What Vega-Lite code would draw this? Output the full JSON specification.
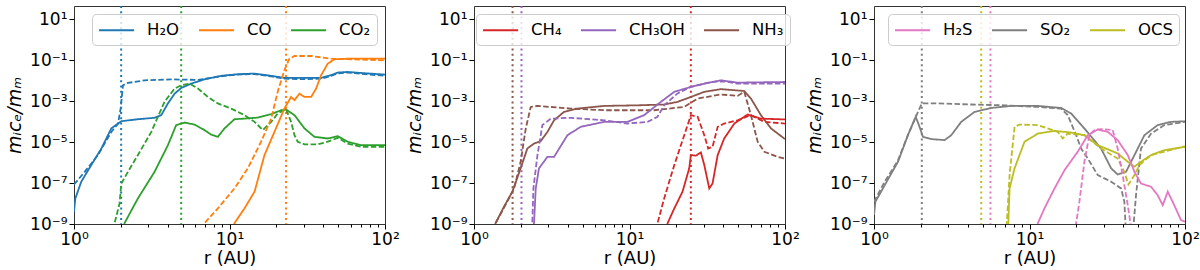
{
  "$schema": "https://vega.github.io/schema/vega-lite/v6.json",
  "padding": {"left": 5, "top": 4, "right": 0, "bottom": 0},
  "bounds": "flush",
  "spacing": 89,
  "config": {
    "font": "DejaVu Sans",
    "view": {"stroke": "#333", "strokeWidth": 1},
    "axis": {"grid": false, "domain": false, "tickColor": "#000", "labelColor": "#000", "titleColor": "#000", "labelFont": "DejaVu Sans", "titleFont": "DejaVu Sans", "titleFontWeight": "normal", "labelFontSize": 17, "titleFontSize": 18, "labelFlush": false},
    "legend": {"orient": "none", "legendY": 8, "direction": "horizontal", "symbolType": "M-1,0H2.9", "symbolSize": 324, "symbolStrokeWidth": 2, "symbolFillColor": "transparent", "labelFontSize": 16.5, "labelFont": "DejaVu Sans", "labelColor": "#000", "strokeColor": "#cccccc", "fillColor": "rgba(255,255,255,0.8)", "cornerRadius": 4, "padding": 6, "columnPadding": 15, "labelOffset": 29}
  },
  "datasets": {
    "snow": [
      {"s": "H₂O", "r": 2.01}, {"s": "CO₂", "r": 4.89}, {"s": "CO", "r": 23.1},
      {"s": "NH₃", "r": 1.77}, {"s": "CH₃OH", "r": 2.02}, {"s": "CH₄", "r": 24.8},
      {"s": "SO₂", "r": 2.03}, {"s": "OCS", "r": 4.89}, {"s": "H₂S", "r": 5.61}
    ],
    "curves": [
      {"s": "H₂O", "t": "s", "r": 1, "v": 4.0e-9},
      {"s": "H₂O", "t": "s", "r": 1.02, "v": 1.78e-8},
      {"s": "H₂O", "t": "s", "r": 1.114, "v": 1.17e-7},
      {"s": "H₂O", "t": "s", "r": 1.291, "v": 7.6e-7},
      {"s": "H₂O", "t": "s", "r": 1.5, "v": 4.9e-6},
      {"s": "H₂O", "t": "s", "r": 1.738, "v": 4.7e-5},
      {"s": "H₂O", "t": "s", "r": 2.014, "v": 1.05e-4},
      {"s": "H₂O", "t": "s", "r": 2.576, "v": 1.32e-4},
      {"s": "H₂O", "t": "s", "r": 3.296, "v": 1.55e-4},
      {"s": "H₂O", "t": "s", "r": 3.639, "v": 2.09e-4},
      {"s": "H₂O", "t": "s", "r": 4.018, "v": 7.8e-4},
      {"s": "H₂O", "t": "s", "r": 4.436, "v": 2.34e-3},
      {"s": "H₂O", "t": "s", "r": 4.898, "v": 4.47e-3},
      {"s": "H₂O", "t": "s", "r": 5.675, "v": 7.24e-3},
      {"s": "H₂O", "t": "s", "r": 6.902, "v": 1.17e-2},
      {"s": "H₂O", "t": "s", "r": 8.831, "v": 1.74e-2},
      {"s": "H₂O", "t": "s", "r": 11.32, "v": 2.09e-2},
      {"s": "H₂O", "t": "s", "r": 14.49, "v": 2.24e-2},
      {"s": "H₂O", "t": "s", "r": 18.54, "v": 1.74e-2},
      {"s": "H₂O", "t": "s", "r": 22.54, "v": 1.38e-2},
      {"s": "H₂O", "t": "s", "r": 30.34, "v": 1.38e-2},
      {"s": "H₂O", "t": "s", "r": 38.82, "v": 1.38e-2},
      {"s": "H₂O", "t": "s", "r": 44.98, "v": 1.86e-2},
      {"s": "H₂O", "t": "s", "r": 49.66, "v": 2.51e-2},
      {"s": "H₂O", "t": "s", "r": 57.54, "v": 2.69e-2},
      {"s": "H₂O", "t": "s", "r": 70.15, "v": 2.4e-2},
      {"s": "H₂O", "t": "s", "r": 100, "v": 2.0e-2},
      {"s": "H₂O", "t": "d", "r": 1, "v": 8.5e-8},
      {"s": "H₂O", "t": "d", "r": 1.172, "v": 3.55e-7},
      {"s": "H₂O", "t": "d", "r": 1.426, "v": 2.34e-6},
      {"s": "H₂O", "t": "d", "r": 1.738, "v": 3.16e-5},
      {"s": "H₂O", "t": "d", "r": 1.919, "v": 8.1e-5},
      {"s": "H₂O", "t": "d", "r": 1.995, "v": 4.37e-4},
      {"s": "H₂O", "t": "d", "r": 2.065, "v": 6.0e-3},
      {"s": "H₂O", "t": "d", "r": 2.223, "v": 7.8e-3},
      {"s": "H₂O", "t": "d", "r": 2.844, "v": 1.05e-2},
      {"s": "H₂O", "t": "d", "r": 4.217, "v": 1.17e-2},
      {"s": "H₂O", "t": "d", "r": 6.266, "v": 1.1e-2},
      {"s": "H₂O", "t": "d", "r": 8.831, "v": 1.66e-2},
      {"s": "H₂O", "t": "d", "r": 11.32, "v": 2.0e-2},
      {"s": "H₂O", "t": "d", "r": 14.49, "v": 2.14e-2},
      {"s": "H₂O", "t": "d", "r": 18.54, "v": 1.62e-2},
      {"s": "H₂O", "t": "d", "r": 22.54, "v": 1.26e-2},
      {"s": "H₂O", "t": "d", "r": 30.34, "v": 1.2e-2},
      {"s": "H₂O", "t": "d", "r": 38.82, "v": 1.26e-2},
      {"s": "H₂O", "t": "d", "r": 44.98, "v": 1.74e-2},
      {"s": "H₂O", "t": "d", "r": 49.66, "v": 2.29e-2},
      {"s": "H₂O", "t": "d", "r": 57.54, "v": 2.51e-2},
      {"s": "H₂O", "t": "d", "r": 70.15, "v": 2.19e-2},
      {"s": "H₂O", "t": "d", "r": 100, "v": 1.74e-2},
      {"s": "CO₂", "t": "s", "r": 2.08, "v": 5e-10},
      {"s": "CO₂", "t": "s", "r": 2.113, "v": 1.1e-9},
      {"s": "CO₂", "t": "s", "r": 2.576, "v": 1.78e-8},
      {"s": "CO₂", "t": "s", "r": 3.296, "v": 3.55e-7},
      {"s": "CO₂", "t": "s", "r": 4.018, "v": 7.1e-6},
      {"s": "CO₂", "t": "s", "r": 4.539, "v": 6.8e-5},
      {"s": "CO₂", "t": "s", "r": 5.14, "v": 9.1e-5},
      {"s": "CO₂", "t": "s", "r": 5.957, "v": 7.2e-5},
      {"s": "CO₂", "t": "s", "r": 6.902, "v": 3.9e-5},
      {"s": "CO₂", "t": "s", "r": 7.621, "v": 2.34e-5},
      {"s": "CO₂", "t": "s", "r": 8.414, "v": 1.82e-5},
      {"s": "CO₂", "t": "s", "r": 9.29, "v": 4.7e-5},
      {"s": "CO₂", "t": "s", "r": 10.76, "v": 1.32e-4},
      {"s": "CO₂", "t": "s", "r": 12.47, "v": 1.41e-4},
      {"s": "CO₂", "t": "s", "r": 15.21, "v": 1.58e-4},
      {"s": "CO₂", "t": "s", "r": 18.54, "v": 2.34e-4},
      {"s": "CO₂", "t": "s", "r": 21.48, "v": 3.63e-4},
      {"s": "CO₂", "t": "s", "r": 23.12, "v": 3.89e-4},
      {"s": "CO₂", "t": "s", "r": 26.18, "v": 2.09e-4},
      {"s": "CO₂", "t": "s", "r": 30.34, "v": 4.7e-5},
      {"s": "CO₂", "t": "s", "r": 35.16, "v": 1.82e-5},
      {"s": "CO₂", "t": "s", "r": 42.85, "v": 1.51e-5},
      {"s": "CO₂", "t": "s", "r": 49.66, "v": 1.95e-5},
      {"s": "CO₂", "t": "s", "r": 57.54, "v": 1.05e-5},
      {"s": "CO₂", "t": "s", "r": 70.15, "v": 7.1e-6},
      {"s": "CO₂", "t": "s", "r": 100, "v": 7.1e-6},
      {"s": "CO₂", "t": "d", "r": 1.8, "v": 5e-10},
      {"s": "CO₂", "t": "d", "r": 1.824, "v": 1.1e-9},
      {"s": "CO₂", "t": "d", "r": 1.963, "v": 1.0e-8},
      {"s": "CO₂", "t": "d", "r": 2.014, "v": 9.5e-8},
      {"s": "CO₂", "t": "d", "r": 2.223, "v": 3.55e-7},
      {"s": "CO₂", "t": "d", "r": 2.576, "v": 2.34e-6},
      {"s": "CO₂", "t": "d", "r": 3.141, "v": 3.16e-5},
      {"s": "CO₂", "t": "d", "r": 3.819, "v": 9.3e-4},
      {"s": "CO₂", "t": "d", "r": 4.436, "v": 4.17e-3},
      {"s": "CO₂", "t": "d", "r": 4.898, "v": 6.0e-3},
      {"s": "CO₂", "t": "d", "r": 5.534, "v": 7.24e-3},
      {"s": "CO₂", "t": "d", "r": 6.266, "v": 4.17e-3},
      {"s": "CO₂", "t": "d", "r": 7.261, "v": 1.62e-3},
      {"s": "CO₂", "t": "d", "r": 8.414, "v": 7.8e-4},
      {"s": "CO₂", "t": "d", "r": 10.26, "v": 4.37e-4},
      {"s": "CO₂", "t": "d", "r": 12.47, "v": 2.09e-4},
      {"s": "CO₂", "t": "d", "r": 14.49, "v": 9.8e-5},
      {"s": "CO₂", "t": "d", "r": 16.37, "v": 3.9e-5},
      {"s": "CO₂", "t": "d", "r": 18.54, "v": 9.8e-5},
      {"s": "CO₂", "t": "d", "r": 20.42, "v": 2.51e-4},
      {"s": "CO₂", "t": "d", "r": 23.12, "v": 4.07e-4},
      {"s": "CO₂", "t": "d", "r": 24.89, "v": 9.8e-5},
      {"s": "CO₂", "t": "d", "r": 26.18, "v": 2.19e-5},
      {"s": "CO₂", "t": "d", "r": 27.48, "v": 1.05e-5},
      {"s": "CO₂", "t": "d", "r": 30.34, "v": 7.8e-6},
      {"s": "CO₂", "t": "d", "r": 36.9, "v": 7.8e-6},
      {"s": "CO₂", "t": "d", "r": 42.85, "v": 1.05e-5},
      {"s": "CO₂", "t": "d", "r": 49.66, "v": 1.62e-5},
      {"s": "CO₂", "t": "d", "r": 57.54, "v": 8.5e-6},
      {"s": "CO₂", "t": "d", "r": 70.15, "v": 5.9e-6},
      {"s": "CO₂", "t": "d", "r": 100, "v": 5.9e-6},
      {"s": "CO", "t": "s", "r": 10.6, "v": 5e-10},
      {"s": "CO", "t": "s", "r": 10.76, "v": 1.1e-9},
      {"s": "CO", "t": "s", "r": 12.47, "v": 5.75e-9},
      {"s": "CO", "t": "s", "r": 14.49, "v": 3.8e-8},
      {"s": "CO", "t": "s", "r": 16.79, "v": 2.34e-6},
      {"s": "CO", "t": "s", "r": 19.45, "v": 3.16e-5},
      {"s": "CO", "t": "s", "r": 22.54, "v": 4.37e-4},
      {"s": "CO", "t": "s", "r": 24.89, "v": 1.62e-3},
      {"s": "CO", "t": "s", "r": 26.18, "v": 1.12e-3},
      {"s": "CO", "t": "s", "r": 28.18, "v": 2.34e-3},
      {"s": "CO", "t": "s", "r": 30.34, "v": 1.62e-3},
      {"s": "CO", "t": "s", "r": 33.5, "v": 1.62e-3},
      {"s": "CO", "t": "s", "r": 36.06, "v": 4.17e-3},
      {"s": "CO", "t": "s", "r": 38.82, "v": 1.86e-2},
      {"s": "CO", "t": "s", "r": 42.85, "v": 6.9e-2},
      {"s": "CO", "t": "s", "r": 47.32, "v": 0.112},
      {"s": "CO", "t": "s", "r": 57.54, "v": 0.12},
      {"s": "CO", "t": "s", "r": 100, "v": 0.12},
      {"s": "CO", "t": "d", "r": 6.8, "v": 5e-10},
      {"s": "CO", "t": "d", "r": 6.902, "v": 1.1e-9},
      {"s": "CO", "t": "d", "r": 8.414, "v": 5.75e-9},
      {"s": "CO", "t": "d", "r": 10.76, "v": 5.5e-8},
      {"s": "CO", "t": "d", "r": 13.12, "v": 5.25e-7},
      {"s": "CO", "t": "d", "r": 15.96, "v": 1.05e-5},
      {"s": "CO", "t": "d", "r": 18.54, "v": 1.41e-4},
      {"s": "CO", "t": "d", "r": 20.42, "v": 2.88e-3},
      {"s": "CO", "t": "d", "r": 22.54, "v": 3.24e-2},
      {"s": "CO", "t": "d", "r": 24.27, "v": 0.12},
      {"s": "CO", "t": "d", "r": 26.18, "v": 0.162},
      {"s": "CO", "t": "d", "r": 33.5, "v": 0.162},
      {"s": "CO", "t": "d", "r": 44.98, "v": 0.12},
      {"s": "CO", "t": "d", "r": 100, "v": 0.1},
      {"s": "NH₃", "t": "s", "r": 1.35, "v": 5e-10},
      {"s": "NH₃", "t": "s", "r": 1.377, "v": 1.1e-9},
      {"s": "NH₃", "t": "s", "r": 1.56, "v": 7.1e-9},
      {"s": "NH₃", "t": "s", "r": 1.766, "v": 3.8e-8},
      {"s": "NH₃", "t": "s", "r": 1.995, "v": 5.25e-7},
      {"s": "NH₃", "t": "s", "r": 2.203, "v": 4.9e-6},
      {"s": "NH₃", "t": "s", "r": 2.432, "v": 8.5e-6},
      {"s": "NH₃", "t": "s", "r": 2.685, "v": 1.12e-5},
      {"s": "NH₃", "t": "s", "r": 2.965, "v": 3.16e-5},
      {"s": "NH₃", "t": "s", "r": 3.273, "v": 1.17e-4},
      {"s": "NH₃", "t": "s", "r": 3.793, "v": 3.02e-4},
      {"s": "NH₃", "t": "s", "r": 4.624, "v": 4.37e-4},
      {"s": "NH₃", "t": "s", "r": 6.871, "v": 5.9e-4},
      {"s": "NH₃", "t": "s", "r": 11.27, "v": 6.3e-4},
      {"s": "NH₃", "t": "s", "r": 16.71, "v": 6.9e-4},
      {"s": "NH₃", "t": "s", "r": 20.37, "v": 9.3e-4},
      {"s": "NH₃", "t": "s", "r": 24.83, "v": 1.62e-3},
      {"s": "NH₃", "t": "s", "r": 30.27, "v": 2.88e-3},
      {"s": "NH₃", "t": "s", "r": 38.73, "v": 3.89e-3},
      {"s": "NH₃", "t": "s", "r": 54.7, "v": 3.16e-3},
      {"s": "NH₃", "t": "s", "r": 60.39, "v": 1.35e-3},
      {"s": "NH₃", "t": "s", "r": 69.98, "v": 2.09e-4},
      {"s": "NH₃", "t": "s", "r": 81.28, "v": 4.7e-5},
      {"s": "NH₃", "t": "s", "r": 89.74, "v": 2.63e-5},
      {"s": "NH₃", "t": "s", "r": 100, "v": 1.41e-5},
      {"s": "NH₃", "t": "d", "r": 1.35, "v": 5e-10},
      {"s": "NH₃", "t": "d", "r": 1.377, "v": 1.1e-9},
      {"s": "NH₃", "t": "d", "r": 1.56, "v": 6.3e-9},
      {"s": "NH₃", "t": "d", "r": 1.811, "v": 5.5e-8},
      {"s": "NH₃", "t": "d", "r": 1.995, "v": 1.1e-6},
      {"s": "NH₃", "t": "d", "r": 2.153, "v": 4.7e-5},
      {"s": "NH₃", "t": "d", "r": 2.317, "v": 5.25e-4},
      {"s": "NH₃", "t": "d", "r": 2.559, "v": 5.9e-4},
      {"s": "NH₃", "t": "d", "r": 4.188, "v": 4.37e-4},
      {"s": "NH₃", "t": "d", "r": 6.871, "v": 3.63e-4},
      {"s": "NH₃", "t": "d", "r": 14.42, "v": 3.63e-4},
      {"s": "NH₃", "t": "d", "r": 22.49, "v": 5.25e-4},
      {"s": "NH₃", "t": "d", "r": 27.42, "v": 1.35e-3},
      {"s": "NH₃", "t": "d", "r": 38.73, "v": 2.14e-3},
      {"s": "NH₃", "t": "d", "r": 49.55, "v": 1.82e-3},
      {"s": "NH₃", "t": "d", "r": 54.7, "v": 2.88e-3},
      {"s": "NH₃", "t": "d", "r": 60.39, "v": 2.09e-4},
      {"s": "NH₃", "t": "d", "r": 66.68, "v": 1.05e-5},
      {"s": "NH₃", "t": "d", "r": 73.62, "v": 3.39e-6},
      {"s": "NH₃", "t": "d", "r": 89.74, "v": 1.91e-6},
      {"s": "NH₃", "t": "d", "r": 100, "v": 1.58e-6},
      {"s": "CH₃OH", "t": "s", "r": 2.4, "v": 5e-10},
      {"s": "CH₃OH", "t": "s", "r": 2.432, "v": 1.1e-9},
      {"s": "CH₃OH", "t": "s", "r": 2.495, "v": 5.5e-8},
      {"s": "CH₃OH", "t": "s", "r": 2.618, "v": 5.25e-7},
      {"s": "CH₃OH", "t": "s", "r": 2.965, "v": 1.91e-6},
      {"s": "CH₃OH", "t": "s", "r": 3.273, "v": 1.91e-6},
      {"s": "CH₃OH", "t": "s", "r": 3.99, "v": 2.19e-5},
      {"s": "CH₃OH", "t": "s", "r": 4.864, "v": 5.62e-5},
      {"s": "CH₃OH", "t": "s", "r": 6.871, "v": 9.8e-5},
      {"s": "CH₃OH", "t": "s", "r": 9.705, "v": 9.8e-5},
      {"s": "CH₃OH", "t": "s", "r": 12.42, "v": 2.09e-4},
      {"s": "CH₃OH", "t": "s", "r": 15.92, "v": 9.3e-4},
      {"s": "CH₃OH", "t": "s", "r": 19.41, "v": 2.88e-3},
      {"s": "CH₃OH", "t": "s", "r": 24.83, "v": 5.0e-3},
      {"s": "CH₃OH", "t": "s", "r": 30.27, "v": 7.24e-3},
      {"s": "CH₃OH", "t": "s", "r": 38.73, "v": 1.05e-2},
      {"s": "CH₃OH", "t": "s", "r": 49.55, "v": 8.1e-3},
      {"s": "CH₃OH", "t": "s", "r": 100, "v": 8.7e-3},
      {"s": "CH₃OH", "t": "d", "r": 2.35, "v": 5e-10},
      {"s": "CH₃OH", "t": "d", "r": 2.371, "v": 1.1e-9},
      {"s": "CH₃OH", "t": "d", "r": 2.41, "v": 5.5e-8},
      {"s": "CH₃OH", "t": "d", "r": 2.559, "v": 2.34e-6},
      {"s": "CH₃OH", "t": "d", "r": 2.754, "v": 6.8e-5},
      {"s": "CH₃OH", "t": "d", "r": 3.119, "v": 1.41e-4},
      {"s": "CH₃OH", "t": "d", "r": 4.188, "v": 1.55e-4},
      {"s": "CH₃OH", "t": "d", "r": 6.871, "v": 1.17e-4},
      {"s": "CH₃OH", "t": "d", "r": 9.705, "v": 8.1e-5},
      {"s": "CH₃OH", "t": "d", "r": 13.06, "v": 9.8e-5},
      {"s": "CH₃OH", "t": "d", "r": 15.14, "v": 1.74e-4},
      {"s": "CH₃OH", "t": "d", "r": 16.71, "v": 6.3e-4},
      {"s": "CH₃OH", "t": "d", "r": 20.37, "v": 2.4e-3},
      {"s": "CH₃OH", "t": "d", "r": 24.83, "v": 5.0e-3},
      {"s": "CH₃OH", "t": "d", "r": 33.42, "v": 8.7e-3},
      {"s": "CH₃OH", "t": "d", "r": 40.64, "v": 9.3e-3},
      {"s": "CH₃OH", "t": "d", "r": 49.55, "v": 7.24e-3},
      {"s": "CH₃OH", "t": "d", "r": 100, "v": 7.24e-3},
      {"s": "CH₄", "t": "s", "r": 17.3, "v": 5e-10},
      {"s": "CH₄", "t": "s", "r": 17.58, "v": 1.1e-9},
      {"s": "CH₄", "t": "s", "r": 19.41, "v": 5.75e-9},
      {"s": "CH₄", "t": "s", "r": 21.93, "v": 3.8e-8},
      {"s": "CH₄", "t": "s", "r": 24.21, "v": 5.25e-7},
      {"s": "CH₄", "t": "s", "r": 24.83, "v": 2.34e-6},
      {"s": "CH₄", "t": "s", "r": 26.73, "v": 2.19e-6},
      {"s": "CH₄", "t": "s", "r": 28.77, "v": 3.16e-6},
      {"s": "CH₄", "t": "s", "r": 30.27, "v": 7.6e-7},
      {"s": "CH₄", "t": "s", "r": 32.58, "v": 5.5e-8},
      {"s": "CH₄", "t": "s", "r": 34.2, "v": 9.5e-8},
      {"s": "CH₄", "t": "s", "r": 36.9, "v": 2.34e-6},
      {"s": "CH₄", "t": "s", "r": 40.64, "v": 1.51e-5},
      {"s": "CH₄", "t": "s", "r": 47.21, "v": 8.1e-5},
      {"s": "CH₄", "t": "s", "r": 57.54, "v": 2.24e-4},
      {"s": "CH₄", "t": "s", "r": 69.98, "v": 1.41e-4},
      {"s": "CH₄", "t": "s", "r": 100, "v": 1.29e-4},
      {"s": "CH₄", "t": "d", "r": 14.9, "v": 5e-10},
      {"s": "CH₄", "t": "d", "r": 15.14, "v": 1.1e-9},
      {"s": "CH₄", "t": "d", "r": 16.71, "v": 1.78e-8},
      {"s": "CH₄", "t": "d", "r": 19.41, "v": 7.6e-7},
      {"s": "CH₄", "t": "d", "r": 22.49, "v": 2.19e-5},
      {"s": "CH₄", "t": "d", "r": 24.83, "v": 2.09e-4},
      {"s": "CH₄", "t": "d", "r": 27.42, "v": 1.74e-4},
      {"s": "CH₄", "t": "d", "r": 30.27, "v": 2.19e-5},
      {"s": "CH₄", "t": "d", "r": 32.06, "v": 4.9e-6},
      {"s": "CH₄", "t": "d", "r": 34.2, "v": 5.9e-6},
      {"s": "CH₄", "t": "d", "r": 36.9, "v": 5.62e-5},
      {"s": "CH₄", "t": "d", "r": 40.64, "v": 8.1e-5},
      {"s": "CH₄", "t": "d", "r": 49.55, "v": 1.17e-4},
      {"s": "CH₄", "t": "d", "r": 60.39, "v": 2.09e-4},
      {"s": "CH₄", "t": "d", "r": 73.62, "v": 9.8e-5},
      {"s": "CH₄", "t": "d", "r": 100, "v": 8.1e-5},
      {"s": "SO₂", "t": "s", "r": 1, "v": 2.75e-9},
      {"s": "SO₂", "t": "s", "r": 1.021, "v": 1.23e-8},
      {"s": "SO₂", "t": "s", "r": 1.172, "v": 7.9e-8},
      {"s": "SO₂", "t": "s", "r": 1.426, "v": 1.1e-6},
      {"s": "SO₂", "t": "s", "r": 1.652, "v": 2.19e-5},
      {"s": "SO₂", "t": "s", "r": 1.854, "v": 1.74e-4},
      {"s": "SO₂", "t": "s", "r": 1.945, "v": 6.8e-5},
      {"s": "SO₂", "t": "s", "r": 2.065, "v": 1.82e-5},
      {"s": "SO₂", "t": "s", "r": 2.333, "v": 1.41e-5},
      {"s": "SO₂", "t": "s", "r": 2.844, "v": 1.26e-5},
      {"s": "SO₂", "t": "s", "r": 3.141, "v": 2.19e-5},
      {"s": "SO₂", "t": "s", "r": 3.639, "v": 9.8e-5},
      {"s": "SO₂", "t": "s", "r": 4.436, "v": 3.02e-4},
      {"s": "SO₂", "t": "s", "r": 5.675, "v": 4.68e-4},
      {"s": "SO₂", "t": "s", "r": 7.621, "v": 5.9e-4},
      {"s": "SO₂", "t": "s", "r": 11.32, "v": 5.9e-4},
      {"s": "SO₂", "t": "s", "r": 15.96, "v": 4.68e-4},
      {"s": "SO₂", "t": "s", "r": 18.54, "v": 2.51e-4},
      {"s": "SO₂", "t": "s", "r": 22.54, "v": 4.7e-5},
      {"s": "SO₂", "t": "s", "r": 28.84, "v": 4.9e-6},
      {"s": "SO₂", "t": "s", "r": 33.5, "v": 5.25e-7},
      {"s": "SO₂", "t": "s", "r": 36.9, "v": 2.63e-7},
      {"s": "SO₂", "t": "s", "r": 41.78, "v": 3.55e-7},
      {"s": "SO₂", "t": "s", "r": 47.32, "v": 2.34e-6},
      {"s": "SO₂", "t": "s", "r": 54.83, "v": 2.19e-5},
      {"s": "SO₂", "t": "s", "r": 66.68, "v": 6.8e-5},
      {"s": "SO₂", "t": "s", "r": 81.28, "v": 9.8e-5},
      {"s": "SO₂", "t": "s", "r": 100, "v": 1.05e-4},
      {"s": "SO₂", "t": "d", "r": 1, "v": 1.23e-8},
      {"s": "SO₂", "t": "d", "r": 1.172, "v": 1.17e-7},
      {"s": "SO₂", "t": "d", "r": 1.426, "v": 1.26e-6},
      {"s": "SO₂", "t": "d", "r": 1.652, "v": 2.19e-5},
      {"s": "SO₂", "t": "d", "r": 1.919, "v": 3.02e-4},
      {"s": "SO₂", "t": "d", "r": 2.032, "v": 7.8e-4},
      {"s": "SO₂", "t": "d", "r": 2.576, "v": 7.8e-4},
      {"s": "SO₂", "t": "d", "r": 4.217, "v": 6.9e-4},
      {"s": "SO₂", "t": "d", "r": 6.902, "v": 6.3e-4},
      {"s": "SO₂", "t": "d", "r": 11.32, "v": 5.25e-4},
      {"s": "SO₂", "t": "d", "r": 15.96, "v": 4.37e-4},
      {"s": "SO₂", "t": "d", "r": 17.62, "v": 2.09e-4},
      {"s": "SO₂", "t": "d", "r": 19.95, "v": 2.19e-5},
      {"s": "SO₂", "t": "d", "r": 21.48, "v": 4.9e-6},
      {"s": "SO₂", "t": "d", "r": 23.71, "v": 1.58e-6},
      {"s": "SO₂", "t": "d", "r": 27.48, "v": 2.45e-7},
      {"s": "SO₂", "t": "d", "r": 33.5, "v": 1.17e-7},
      {"s": "SO₂", "t": "d", "r": 38.82, "v": 5.5e-8},
      {"s": "SO₂", "t": "d", "r": 40.74, "v": 1.23e-8},
      {"s": "SO₂", "t": "d", "r": 41.78, "v": 3e-10},
      {"s": "SO₂", "t": "d", "r": 46.13, "v": 3e-10},
      {"s": "SO₂", "t": "d", "r": 48.42, "v": 2.57e-8},
      {"s": "SO₂", "t": "d", "r": 52.12, "v": 4.9e-6},
      {"s": "SO₂", "t": "d", "r": 60.53, "v": 2.63e-5},
      {"s": "SO₂", "t": "d", "r": 73.62, "v": 6.8e-5},
      {"s": "SO₂", "t": "d", "r": 100, "v": 9.8e-5},
      {"s": "OCS", "t": "s", "r": 7.261, "v": 3e-10},
      {"s": "OCS", "t": "s", "r": 7.447, "v": 5.5e-8},
      {"s": "OCS", "t": "s", "r": 8.017, "v": 5.25e-7},
      {"s": "OCS", "t": "s", "r": 9.29, "v": 1.05e-5},
      {"s": "OCS", "t": "s", "r": 11.32, "v": 2.63e-5},
      {"s": "OCS", "t": "s", "r": 14.49, "v": 3.55e-5},
      {"s": "OCS", "t": "s", "r": 18.54, "v": 2.95e-5},
      {"s": "OCS", "t": "s", "r": 22.54, "v": 2.19e-5},
      {"s": "OCS", "t": "s", "r": 27.48, "v": 7.1e-6},
      {"s": "OCS", "t": "s", "r": 36.9, "v": 2.82e-6},
      {"s": "OCS", "t": "s", "r": 42.85, "v": 1.1e-6},
      {"s": "OCS", "t": "s", "r": 47.32, "v": 6.3e-7},
      {"s": "OCS", "t": "s", "r": 52.12, "v": 1.1e-6},
      {"s": "OCS", "t": "s", "r": 60.53, "v": 2.34e-6},
      {"s": "OCS", "t": "s", "r": 73.62, "v": 4.07e-6},
      {"s": "OCS", "t": "s", "r": 100, "v": 5.9e-6},
      {"s": "OCS", "t": "d", "r": 7.079, "v": 3e-10},
      {"s": "OCS", "t": "d", "r": 7.447, "v": 2.45e-7},
      {"s": "OCS", "t": "d", "r": 8.017, "v": 5.62e-5},
      {"s": "OCS", "t": "d", "r": 8.63, "v": 7.2e-5},
      {"s": "OCS", "t": "d", "r": 11.32, "v": 6.8e-5},
      {"s": "OCS", "t": "d", "r": 15.21, "v": 3.16e-5},
      {"s": "OCS", "t": "d", "r": 16.37, "v": 1.51e-5},
      {"s": "OCS", "t": "d", "r": 17.62, "v": 2.63e-5},
      {"s": "OCS", "t": "d", "r": 22.54, "v": 2.19e-5},
      {"s": "OCS", "t": "d", "r": 28.84, "v": 4.9e-6},
      {"s": "OCS", "t": "d", "r": 36.9, "v": 1.58e-6},
      {"s": "OCS", "t": "d", "r": 40.74, "v": 3.55e-7},
      {"s": "OCS", "t": "d", "r": 43.25, "v": 8.5e-8},
      {"s": "OCS", "t": "d", "r": 47.32, "v": 2.45e-7},
      {"s": "OCS", "t": "d", "r": 50.93, "v": 7.6e-7},
      {"s": "OCS", "t": "d", "r": 60.53, "v": 2.34e-6},
      {"s": "OCS", "t": "d", "r": 100, "v": 6.3e-6},
      {"s": "H₂S", "t": "s", "r": 11.0, "v": 3e-10},
      {"s": "H₂S", "t": "s", "r": 11.32, "v": 1.1e-9},
      {"s": "H₂S", "t": "s", "r": 12.47, "v": 5.75e-9},
      {"s": "H₂S", "t": "s", "r": 14.49, "v": 5.5e-8},
      {"s": "H₂S", "t": "s", "r": 16.79, "v": 4.27e-7},
      {"s": "H₂S", "t": "s", "r": 20.42, "v": 3.39e-6},
      {"s": "H₂S", "t": "s", "r": 23.71, "v": 2.19e-5},
      {"s": "H₂S", "t": "s", "r": 27.48, "v": 4.17e-5},
      {"s": "H₂S", "t": "s", "r": 31.84, "v": 3.16e-5},
      {"s": "H₂S", "t": "s", "r": 36.9, "v": 1.26e-5},
      {"s": "H₂S", "t": "s", "r": 42.85, "v": 2.34e-6},
      {"s": "H₂S", "t": "s", "r": 47.32, "v": 3.55e-7},
      {"s": "H₂S", "t": "s", "r": 52.12, "v": 9.5e-8},
      {"s": "H₂S", "t": "s", "r": 60.53, "v": 6.6e-8},
      {"s": "H₂S", "t": "s", "r": 66.68, "v": 2.57e-8},
      {"s": "H₂S", "t": "s", "r": 71.94, "v": 8.3e-9},
      {"s": "H₂S", "t": "s", "r": 77.45, "v": 3.8e-8},
      {"s": "H₂S", "t": "s", "r": 85.31, "v": 8.3e-9},
      {"s": "H₂S", "t": "s", "r": 94.19, "v": 1.55e-9},
      {"s": "H₂S", "t": "s", "r": 100, "v": 1.29e-9},
      {"s": "H₂S", "t": "d", "r": 19.45, "v": 3e-10},
      {"s": "H₂S", "t": "d", "r": 20.94, "v": 1.23e-8},
      {"s": "H₂S", "t": "d", "r": 22.54, "v": 1.1e-6},
      {"s": "H₂S", "t": "d", "r": 24.27, "v": 2.19e-5},
      {"s": "H₂S", "t": "d", "r": 26.18, "v": 3.89e-5},
      {"s": "H₂S", "t": "d", "r": 28.84, "v": 4.37e-5},
      {"s": "H₂S", "t": "d", "r": 34.28, "v": 3.89e-5},
      {"s": "H₂S", "t": "d", "r": 36.9, "v": 4.9e-6},
      {"s": "H₂S", "t": "d", "r": 39.72, "v": 2.45e-7},
      {"s": "H₂S", "t": "d", "r": 42.85, "v": 8.3e-9},
      {"s": "H₂S", "t": "d", "r": 45.7, "v": 3e-10}
    ]
  },
  "hconcat": [
    {
      "width": 311, "height": 218,
      "layer": [
        {
          "data": {"name": "snow"},
          "transform": [{"filter": {"field": "s", "oneOf": ["H₂O", "CO", "CO₂"]}}],
          "mark": {"type": "rule", "strokeDash": [2, 3.3], "strokeWidth": 2},
          "encoding": {
            "x": {"field": "r", "type": "quantitative", "scale": {"type": "log", "domain": [1, 100], "nice": false}},
            "color": {"field": "s", "type": "nominal", "scale": {"domain": ["H₂O", "CO", "CO₂"], "range": ["#1f77b4", "#ff7f0e", "#2ca02c"]}}
          }
        },
        {
          "data": {"name": "curves"},
          "transform": [{"filter": {"field": "s", "oneOf": ["H₂O", "CO", "CO₂"]}}],
          "mark": {"type": "line", "strokeWidth": 1.8, "clip": true},
          "encoding": {
            "x": {"field": "r", "type": "quantitative", "scale": {"type": "log", "domain": [1, 100], "nice": false},
              "axis": {"title": "r (AU)", "values": [1,2,3,4,5,6,7,8,9,10,20,30,40,50,60,70,80,90,100], "labelExpr": "datum.value == 1 ? '10⁰' : datum.value == 10 ? '10¹' : datum.value == 100 ? '10²' : ''", "tickSize": {"condition": {"test": "datum.value == 1 || datum.value == 10 || datum.value == 100", "value": 5}, "value": 3}, "labelPadding": 2, "titlePadding": 2}},
            "y": {"field": "v", "type": "quantitative", "scale": {"type": "log", "domain": [1e-9, 45], "nice": false},
              "axis": {"title": "mᵢcₑ/mₘ", "titleFontStyle": "italic", "titleFontSize": 19, "values": [10, 0.1, 0.001, 0.00001, 1e-7, 1e-9], "labelExpr": "datum.value > 1 ? '10¹' : datum.value > 0.01 ? '10⁻¹' : datum.value > 0.0001 ? '10⁻³' : datum.value > 0.000001 ? '10⁻⁵' : datum.value > 0.00000001 ? '10⁻⁷' : '10⁻⁹'", "tickSize": 5, "labelPadding": 2, "titlePadding": 5}},
            "color": {"field": "s", "type": "nominal", "scale": {"domain": ["H₂O", "CO", "CO₂"], "range": ["#1f77b4", "#ff7f0e", "#2ca02c"]}, "legend": {"title": null, "legendX": 18}},
            "strokeDash": {"field": "t", "type": "nominal", "scale": {"domain": ["s", "d"], "range": [[1, 0], [5.5, 2.4]]}, "legend": null}
          }
        }
      ]
    },
    {
      "width": 311, "height": 218,
      "layer": [
        {
          "data": {"name": "snow"},
          "transform": [{"filter": {"field": "s", "oneOf": ["CH₄", "CH₃OH", "NH₃"]}}],
          "mark": {"type": "rule", "strokeDash": [2, 3.3], "strokeWidth": 2},
          "encoding": {
            "x": {"field": "r", "type": "quantitative", "scale": {"type": "log", "domain": [1, 100], "nice": false}},
            "color": {"field": "s", "type": "nominal", "scale": {"domain": ["CH₄", "CH₃OH", "NH₃"], "range": ["#d62728", "#9467bd", "#8c564b"]}}
          }
        },
        {
          "data": {"name": "curves"},
          "transform": [{"filter": {"field": "s", "oneOf": ["CH₄", "CH₃OH", "NH₃"]}}],
          "mark": {"type": "line", "strokeWidth": 1.8, "clip": true},
          "encoding": {
            "x": {"field": "r", "type": "quantitative", "scale": {"type": "log", "domain": [1, 100], "nice": false},
              "axis": {"title": "r (AU)", "values": [1,2,3,4,5,6,7,8,9,10,20,30,40,50,60,70,80,90,100], "labelExpr": "datum.value == 1 ? '10⁰' : datum.value == 10 ? '10¹' : datum.value == 100 ? '10²' : ''", "tickSize": {"condition": {"test": "datum.value == 1 || datum.value == 10 || datum.value == 100", "value": 5}, "value": 3}, "labelPadding": 2, "titlePadding": 2}},
            "y": {"field": "v", "type": "quantitative", "scale": {"type": "log", "domain": [1e-9, 45], "nice": false},
              "axis": {"title": "mᵢcₑ/mₘ", "titleFontStyle": "italic", "titleFontSize": 19, "values": [10, 0.1, 0.001, 0.00001, 1e-7, 1e-9], "labelExpr": "datum.value > 1 ? '10¹' : datum.value > 0.01 ? '10⁻¹' : datum.value > 0.0001 ? '10⁻³' : datum.value > 0.000001 ? '10⁻⁵' : datum.value > 0.00000001 ? '10⁻⁷' : '10⁻⁹'", "tickSize": 5, "labelPadding": 2, "titlePadding": 5}},
            "color": {"field": "s", "type": "nominal", "scale": {"domain": ["CH₄", "CH₃OH", "NH₃"], "range": ["#d62728", "#9467bd", "#8c564b"]}, "legend": {"title": null, "legendX": 2}},
            "strokeDash": {"field": "t", "type": "nominal", "scale": {"domain": ["s", "d"], "range": [[1, 0], [5.5, 2.4]]}, "legend": null}
          }
        }
      ]
    },
    {
      "width": 311, "height": 218,
      "layer": [
        {
          "data": {"name": "snow"},
          "transform": [{"filter": {"field": "s", "oneOf": ["H₂S", "SO₂", "OCS"]}}],
          "mark": {"type": "rule", "strokeDash": [2, 3.3], "strokeWidth": 2},
          "encoding": {
            "x": {"field": "r", "type": "quantitative", "scale": {"type": "log", "domain": [1, 100], "nice": false}},
            "color": {"field": "s", "type": "nominal", "scale": {"domain": ["H₂S", "SO₂", "OCS"], "range": ["#e377c2", "#7f7f7f", "#bcbd22"]}}
          }
        },
        {
          "data": {"name": "curves"},
          "transform": [{"filter": {"field": "s", "oneOf": ["H₂S", "SO₂", "OCS"]}}],
          "mark": {"type": "line", "strokeWidth": 1.8, "clip": true},
          "encoding": {
            "x": {"field": "r", "type": "quantitative", "scale": {"type": "log", "domain": [1, 100], "nice": false},
              "axis": {"title": "r (AU)", "values": [1,2,3,4,5,6,7,8,9,10,20,30,40,50,60,70,80,90,100], "labelExpr": "datum.value == 1 ? '10⁰' : datum.value == 10 ? '10¹' : datum.value == 100 ? '10²' : ''", "tickSize": {"condition": {"test": "datum.value == 1 || datum.value == 10 || datum.value == 100", "value": 5}, "value": 3}, "labelPadding": 2, "titlePadding": 2}},
            "y": {"field": "v", "type": "quantitative", "scale": {"type": "log", "domain": [1e-9, 45], "nice": false},
              "axis": {"title": "mᵢcₑ/mₘ", "titleFontStyle": "italic", "titleFontSize": 19, "values": [10, 0.1, 0.001, 0.00001, 1e-7, 1e-9], "labelExpr": "datum.value > 1 ? '10¹' : datum.value > 0.01 ? '10⁻¹' : datum.value > 0.0001 ? '10⁻³' : datum.value > 0.000001 ? '10⁻⁵' : datum.value > 0.00000001 ? '10⁻⁷' : '10⁻⁹'", "tickSize": 5, "labelPadding": 2, "titlePadding": 5}},
            "color": {"field": "s", "type": "nominal", "scale": {"domain": ["H₂S", "SO₂", "OCS"], "range": ["#e377c2", "#7f7f7f", "#bcbd22"]}, "legend": {"title": null, "legendX": 14}},
            "strokeDash": {"field": "t", "type": "nominal", "scale": {"domain": ["s", "d"], "range": [[1, 0], [5.5, 2.4]]}, "legend": null}
          }
        }
      ]
    }
  ],
  "resolve": {"scale": {"color": "independent"}, "legend": {"color": "independent"}}
}
